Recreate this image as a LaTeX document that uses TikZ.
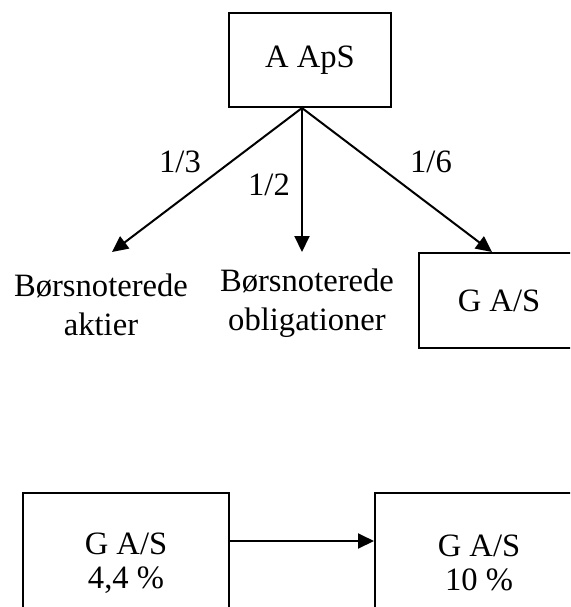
\documentclass[tikz,border=0pt]{standalone}
\usepackage{fontspec}
\setmainfont{Liberation Serif}
\usetikzlibrary{arrows.meta}
\begin{document}
\begin{tikzpicture}[x=0.5pt,y=-0.5pt,
  every node/.style={font=\fontsize{16.3}{19.5}\selectfont},
  box/.style={draw,line width=1pt,align=center},
  tightbox/.style={box,font=\fontsize{16.3}{17}\selectfont},
  txt/.style={align=center,inner sep=0pt},
  conn/.style={line width=1pt,-{Triangle[length=8pt,width=7.5pt]}}]
  \clip (0,0) rectangle (570,607);
  \useasboundingbox (0,0) rectangle (570,607);

  % ownership of A ApS
  \node[box,minimum width=81pt,minimum height=47pt] (aaps) at (310,60) {A ApS};
  \node[txt] (aktier) at (101,305) {Børsnoterede\\aktier};
  \node[txt] (oblig) at (307,303) {Børsnoterede\\obligationer};
  \node[box,minimum width=80pt,minimum height=47.5pt] (gas) at (499,300.5) {G A/S};

  \coordinate (apex) at ([xshift=-4pt]aaps.south);
  \coordinate (tipA) at (112,252);
  \coordinate (tipB) at (302,252);
  \draw[conn] (apex) -- (tipA);
  \draw[conn] (apex) -- (tipB);
  \draw[conn] (apex) -- ([xshift=-3.5pt]gas.north);

  \node[txt] (l13) at (180,162) {1/3};
  \node[txt] (l12) at (269,185) {1/2};
  \node[txt] (l16) at (431,162) {1/6};

  % share increase of G A/S
  \node[tightbox,minimum width=103pt,minimum height=70pt] (gl) at (126,563) {G A/S\\4,4 \%};
  \node[tightbox,minimum width=104pt,minimum height=70pt] (gr) at (479,563) {G A/S\\10 \%};
  \draw[conn] (gl.east |- 0,541) -- (gr.west |- 0,541);
\end{tikzpicture}
\end{document}
